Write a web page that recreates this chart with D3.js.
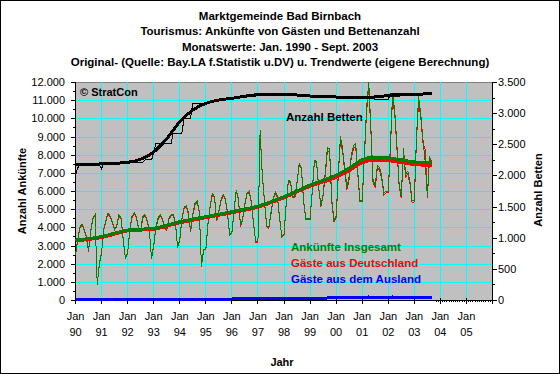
<!DOCTYPE html>
<html>
<head>
<meta charset="utf-8">
<script src="https://cdn.jsdelivr.net/npm/d3@7"></script>
<style>
  body { margin: 0; background: #fff; }
  svg { display: block; font-family: "Liberation Sans", Arial, sans-serif; }
</style>
</head>
<body>
<svg id="chart" width="560" height="374"></svg>
<script>
// titles and labels
const titleLines = [
    'Marktgemeinde Bad Birnbach',
    'Tourismus: Ankünfte von Gästen und Bettenanzahl',
    'Monatswerte: Jan. 1990 - Sept. 2003',
    'Original- (Quelle: Bay.LA f.Statistik u.DV) u. Trendwerte (eigene Berechnung)'
];
const yearLabels = ['90', '91', '92', '93', '94', '95', '96', '97', '98', '99', '00', '01', '02', '03', '04', '05'];
const leftTicks = [0, 1000, 2000, 3000, 4000, 5000, 6000, 7000, 8000, 9000, 10000, 11000, 12000];
const rightTicks = [0, 500, 1000, 1500, 2000, 2500, 3000, 3500];

// monthly values Jan 1990 - Sep 2003 (one row per year)
const insgesamt = [
    2500, 3300, 4000, 4200, 3900, 3500, 2700, 3800, 4500, 4700, 850, 2000,
    2600, 3900, 4400, 4800, 4600, 4300, 3900, 4100, 4700, 4500, 3300, 2300,
    2600, 3850, 4600, 4800, 4600, 4000, 3850, 4600, 4700, 4400, 3850, 2300,
    3000, 4000, 4500, 4700, 4500, 4000, 3900, 4500, 4700, 4700, 4300, 2900,
    3300, 4500, 5100, 5200, 4800, 3800, 4700, 5300, 5450, 4900, 1850, 2800,
    2800, 4200, 5200, 5850, 5700, 4400, 4900, 5500, 5800, 5600, 4800, 3600,
    3700, 4950, 6050, 5600, 4100, 4500, 5300, 5900, 6000, 5400, 4200, 3200,
    3200, 9350, 6900, 5500, 4100, 4000, 4800, 5600, 5950, 5700, 4500, 3500,
    3600, 5300, 6600, 6500, 5700, 5700, 6500, 7500, 7300, 5500, 4500, 4500,
    4500, 6000, 7700, 7600, 6200, 5200, 5800, 7000, 8400, 8300, 5500, 4400,
    4600, 7000, 9000, 8300, 7200, 6200, 6800, 8000, 8500, 8600, 7000, 5500,
    5500, 8000, 10500, 12000, 9500, 6600, 6300, 7400, 7300, 6800, 5900, 6000,
    6000, 8500, 11400, 10400, 8500, 6400, 5700, 8350, 6900, 7100, 6500, 5450,
    5500, 9000, 11200, 10200, 8800, 7600, 5700, 7900, 7600
];
const deutschland = [
    2470, 3260, 3950, 4140, 3850, 3460, 2660, 3750, 4440, 4650, 830, 1970,
    2570, 3860, 4350, 4740, 4540, 4260, 3860, 4050, 4640, 4450, 3260, 2270,
    2570, 3800, 4540, 4740, 4540, 3950, 3810, 4540, 4640, 4350, 3810, 2270,
    2960, 3950, 4440, 4640, 4440, 3950, 3850, 4440, 4640, 4640, 4250, 2870,
    3260, 4450, 5040, 5130, 4740, 3750, 4650, 5240, 5380, 4840, 1830, 2770,
    2760, 4150, 5130, 5780, 5630, 4350, 4840, 5430, 5730, 5530, 4750, 3560,
    3660, 4890, 5980, 5530, 4050, 4450, 5240, 5830, 5930, 5340, 4150, 3160,
    3160, 9270, 6830, 5440, 4050, 3950, 4740, 5530, 5880, 5630, 4450, 3460,
    3560, 5240, 6530, 6430, 5640, 5640, 6430, 7420, 7220, 5440, 4450, 4450,
    4450, 5940, 7620, 7520, 6140, 5140, 5740, 6880, 8240, 8140, 5390, 4310,
    4510, 6870, 8830, 8140, 7060, 6080, 6670, 7850, 8330, 8430, 6870, 5400,
    5400, 7850, 10300, 11770, 9320, 6470, 6180, 7260, 7160, 6670, 5790, 5890,
    5890, 8340, 11180, 10200, 8340, 6280, 5590, 8190, 6770, 6960, 6380, 5350,
    5400, 8830, 10990, 10010, 8630, 8300, 5590, 7750, 7450
];
const ausland = [
    30, 40, 50, 60, 50, 40, 40, 50, 60, 50, 20, 30,
    30, 40, 50, 60, 60, 40, 40, 50, 60, 50, 40, 30,
    30, 50, 60, 60, 60, 50, 40, 60, 60, 50, 40, 30,
    40, 50, 60, 60, 60, 50, 50, 60, 60, 60, 50, 30,
    40, 50, 60, 70, 60, 50, 50, 60, 70, 60, 20, 30,
    40, 50, 70, 70, 70, 50, 60, 70, 70, 70, 50, 40,
    40, 60, 70, 70, 50, 50, 60, 70, 70, 60, 50, 40,
    40, 80, 70, 60, 50, 50, 60, 70, 70, 70, 50, 40,
    40, 60, 70, 70, 60, 60, 70, 80, 80, 60, 50, 50,
    50, 60, 80, 80, 60, 60, 60, 120, 160, 160, 110, 90,
    90, 130, 170, 160, 140, 120, 130, 150, 170, 170, 130, 100,
    100, 150, 200, 230, 180, 130, 120, 140, 140, 130, 110, 110,
    110, 160, 220, 200, 160, 120, 110, 160, 130, 140, 120, 100,
    100, 170, 210, 190, 170, 150, 110, 150, 150
];
const betten = [
    2000, 2120, 2175, 2175, 2175, 2175, 2175, 2175, 2175, 2175, 2175, 2175,
    2110, 2190, 2190, 2190, 2190, 2190, 2190, 2190, 2190, 2190, 2190, 2190,
    2205, 2205, 2205, 2205, 2210, 2210, 2210, 2210, 2248, 2248, 2248, 2248,
    2355, 2510, 2510, 2510, 2510, 2510, 2510, 2510, 2510, 2680, 2680, 2680,
    2680, 2680, 2920, 2920, 2920, 2920, 3160, 3160, 3160, 3160, 3160, 3160,
    3170, 3175, 3180, 3190, 3195, 3200, 3205, 3210, 3215, 3220, 3225, 3230,
    3235, 3240, 3240, 3245, 3250, 3250, 3255, 3260, 3260, 3265, 3270, 3270,
    3320, 3320, 3315, 3315, 3310, 3310, 3310, 3305, 3305, 3305, 3305, 3300,
    3300, 3300, 3300, 3290, 3290, 3290, 3290, 3290, 3285, 3285, 3285, 3280,
    3275, 3275, 3275, 3275, 3275, 3270, 3270, 3270, 3270, 3270, 3265, 3265,
    3262, 3262, 3262, 3260, 3260, 3260, 3260, 3258, 3258, 3258, 3255, 3255,
    3250, 3250, 3250, 3250, 3250, 3250, 3215, 3215, 3215, 3215, 3215, 3215,
    3215, 3320, 3315, 3310, 3310, 3310, 3310, 3310, 3310, 3310, 3310, 3310,
    3310, 3310, 3310, 3310, 3312, 3312, 3315, 3315, 3315
];

// trend values (month index since Jan 1990)
const trendMonths = [0, 12, 24, 36, 48, 60, 72, 84, 96, 108, 120, 126, 132, 138, 144, 156, 164];
const trendInsgesamt = [3300, 3490, 3850, 3950, 4310, 4590, 4860, 5170, 5690, 6330, 6880, 7260, 7720, 7870, 7820, 7600, 7540];
const trendDeutschland = [3250, 3440, 3800, 3900, 4250, 4530, 4800, 5110, 5630, 6260, 6750, 7120, 7560, 7700, 7670, 7460, 7400];
const trendAusland = [40, 45, 45, 50, 50, 55, 55, 60, 60, 70, 130, 140, 150, 150, 150, 150, 150];
const bettenTrendMonths = [0, 12, 24, 30, 36, 42, 48, 54, 60, 66, 72, 84, 96, 108, 120, 132, 144, 156, 164];
const bettenTrend = [2170, 2185, 2210, 2260, 2375, 2590, 2860, 3050, 3157, 3211, 3238, 3295, 3302, 3275, 3259, 3248, 3280, 3302, 3313];

const svg = d3.select('#chart');
const W = 560, H = 374;
const plot = {left: 75, right: 492, top: 82, bottom: 300};

const fmt = d3.formatLocale({decimal: ',', thousands: '.', grouping: [3], currency: ['', '€']}).format(',d');

const x = d3.scaleLinear().domain([0, 192]).range([plot.left + 0.5, plot.right + 0.5]);
const yL = d3.scaleLinear().domain([0, 12000]).range([plot.bottom, plot.top]);
const yR = d3.scaleLinear().domain([0, 3500]).range([plot.bottom, plot.top]);
const snap = v => Math.round(v) + 0.5;

// outer frame
svg.append('rect').attr('x', 0.5).attr('y', 0.5).attr('width', W - 1).attr('height', H - 1)
    .attr('fill', '#fff').attr('stroke', '#000');

// title
svg.append('g').selectAll('text').data(titleLines).join('text')
    .attr('x', 280).attr('y', (d, i) => 20 + i * 15.3)
    .attr('text-anchor', 'middle').attr('font-size', 11.5).attr('font-weight', 'bold')
    .text(d => d);

// plot background
svg.append('rect').attr('x', plot.left).attr('y', plot.top)
    .attr('width', plot.right - plot.left).attr('height', plot.bottom - plot.top)
    .attr('fill', '#c0c0c0');
svg.append('line').attr('x1', plot.left).attr('x2', plot.right)
    .attr('y1', plot.top + 0.5).attr('y2', plot.top + 0.5).attr('stroke', '#808080');

// grid
const grid = svg.append('g').attr('stroke', '#00ffff').attr('stroke-width', 1).attr('shape-rendering', 'crispEdges');
grid.selectAll('.gy').data(leftTicks.slice(1, -1)).join('line')
    .attr('x1', plot.left).attr('x2', plot.right)
    .attr('y1', d => snap(yL(d))).attr('y2', d => snap(yL(d)));
grid.selectAll('.gx').data(d3.range(12, 192, 12)).join('line')
    .attr('y1', plot.top).attr('y2', plot.bottom)
    .attr('x1', d => snap(x(d) - 0.5)).attr('x2', d => snap(x(d) - 0.5));

// axis lines (below the data, the blue line covers the bottom one)
const axes = svg.append('g').attr('stroke', '#000').attr('shape-rendering', 'crispEdges');
axes.append('line').attr('x1', plot.left + 0.5).attr('x2', plot.left + 0.5).attr('y1', plot.top).attr('y2', plot.bottom + 1);
axes.append('line').attr('x1', plot.right + 0.5).attr('x2', plot.right + 0.5).attr('y1', plot.top).attr('y2', plot.bottom + 1);
axes.append('line').attr('x1', plot.left).attr('x2', plot.right + 1).attr('y1', plot.bottom + 0.5).attr('y2', plot.bottom + 0.5);

// series
svg.append('clipPath').attr('id', 'clip').append('rect')
    .attr('x', plot.left).attr('y', plot.top)
    .attr('width', plot.right - plot.left + 1).attr('height', plot.bottom - plot.top + 2);
const series = svg.append('g').attr('clip-path', 'url(#clip)').attr('fill', 'none')
    .attr('shape-rendering', 'crispEdges');

const monthLine = y => d3.line().x((d, i) => x(i)).y(d => y(d));
const trendLine = (months, y) => d3.line().x((d, i) => x(months[i])).y(d => y(d)).curve(d3.curveMonotoneX);

series.append('path').datum(deutschland).attr('d', monthLine(yL)).attr('stroke', '#ff0000').attr('stroke-width', 1);
series.append('path').datum(insgesamt).attr('d', monthLine(yL)).attr('stroke', '#008000').attr('stroke-width', 1);
series.append('path').datum(ausland).attr('d', monthLine(yL)).attr('stroke', '#0000ff').attr('stroke-width', 1);
series.append('path').datum(trendDeutschland).attr('d', trendLine(trendMonths, yL)).attr('stroke', '#ff0000').attr('stroke-width', 3);
series.append('path').datum(trendInsgesamt).attr('d', trendLine(trendMonths, yL)).attr('stroke', '#008000').attr('stroke-width', 3);
series.append('path').datum(trendAusland).attr('d', trendLine(trendMonths, yL)).attr('stroke', '#0000ff').attr('stroke-width', 3);
series.append('path').datum(betten).attr('d', monthLine(yR)).attr('stroke', '#000').attr('stroke-width', 1);
series.append('path').datum(bettenTrend).attr('d', trendLine(bettenTrendMonths, yR)).attr('stroke', '#000').attr('stroke-width', 3);

// tick marks
const ticks = svg.append('g').attr('stroke', '#000').attr('shape-rendering', 'crispEdges');
const minorL = d3.range(500, 12000, 1000);
ticks.selectAll('.tl').data(leftTicks).join('line')
    .attr('x1', plot.left - 4).attr('x2', plot.left)
    .attr('y1', d => snap(yL(d))).attr('y2', d => snap(yL(d)));
ticks.selectAll('.tlm').data(minorL).join('line')
    .attr('x1', plot.left - 2).attr('x2', plot.left)
    .attr('y1', d => snap(yL(d))).attr('y2', d => snap(yL(d)));
const minorR = d3.range(250, 3500, 500);
ticks.selectAll('.tr').data(rightTicks).join('line')
    .attr('x1', plot.right).attr('x2', plot.right + 5)
    .attr('y1', d => snap(yR(d))).attr('y2', d => snap(yR(d)));
ticks.selectAll('.trm').data(minorR).join('line')
    .attr('x1', plot.right).attr('x2', plot.right + 3)
    .attr('y1', d => snap(yR(d))).attr('y2', d => snap(yR(d)));
ticks.selectAll('.tx').data(d3.range(0, 193, 12)).join('line')
    .attr('x1', d => snap(x(d) - 0.5)).attr('x2', d => snap(x(d) - 0.5))
    .attr('y1', plot.bottom - 2).attr('y2', plot.bottom + 4);
ticks.selectAll('.txm').data(d3.range(166, 193)).join('line')
    .attr('x1', d => snap(x(d) - 0.5)).attr('x2', d => snap(x(d) - 0.5))
    .attr('y1', plot.bottom).attr('y2', plot.bottom + 2);

// tick labels
const labels = svg.append('g').attr('font-size', 11).attr('fill', '#000');
labels.selectAll('.ll').data(leftTicks).join('text')
    .attr('x', 65).attr('y', d => yL(d) + 4).attr('text-anchor', 'end').text(fmt);
labels.selectAll('.rl').data(rightTicks).join('text')
    .attr('x', 498).attr('y', d => yR(d) + 4).text(fmt);
labels.selectAll('.xj').data(yearLabels).join('text')
    .attr('x', (d, i) => x(i * 12)).attr('y', 320).attr('text-anchor', 'middle').text('Jan');
labels.selectAll('.xy').data(yearLabels).join('text')
    .attr('x', (d, i) => x(i * 12)).attr('y', 336).attr('text-anchor', 'middle').text(d => d);

// axis titles
const bold = svg.append('g').attr('font-size', 11).attr('font-weight', 'bold');
bold.append('text').attr('transform', 'translate(26,191) rotate(-90)').attr('text-anchor', 'middle').text('Anzahl Ankünfte');
bold.append('text').attr('transform', 'translate(542,190) rotate(-90)').attr('text-anchor', 'middle').text('Anzahl Betten');
bold.append('text').attr('x', 282).attr('y', 366).attr('text-anchor', 'middle').text('Jahr');

// annotations inside the plot
bold.append('text').attr('x', 80).attr('y', 96).text('© StratCon');
const notes = svg.append('g').attr('font-size', 11.5).attr('font-weight', 'bold');
notes.append('text').attr('x', 286).attr('y', 121).text('Anzahl Betten');
notes.append('text').attr('x', 291).attr('y', 251).attr('fill', '#008000').text('Ankünfte Insgesamt');
notes.append('text').attr('x', 291).attr('y', 267).attr('fill', '#ff0000').text('Gäste aus Deutschland');
notes.append('text').attr('x', 291).attr('y', 283).attr('fill', '#0000ff').text('Gäste aus dem Ausland');
</script>
</body>
</html>
